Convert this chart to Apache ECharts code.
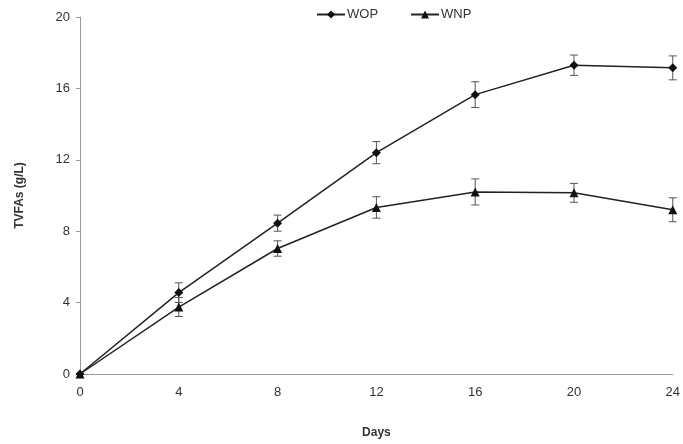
<!DOCTYPE html>
<html><head><meta charset="utf-8">
<script src="https://cdn.jsdelivr.net/npm/echarts@6/dist/echarts.min.js"></script>
<style>html,body{margin:0;padding:0;background:#fff}#c{width:683px;height:444px}</style>
</head><body><div id="c"></div>
<script>
var days = [0, 4, 8, 12, 16, 20, 24];
var wop = [0, 4.56, 8.45, 12.4, 15.65, 17.3, 17.15];
var wopErr = [0, 0.55, 0.45, 0.62, 0.72, 0.57, 0.67];
var wnp = [0, 3.75, 7.03, 9.33, 10.2, 10.15, 9.2];
var wnpErr = [0, 0.53, 0.43, 0.6, 0.73, 0.53, 0.67];
var yTicks = [0, 4, 8, 12, 16, 20];

function pairs(v){ return days.map(function(d,i){ return [d, v[i]]; }); }
function errData(v,e){ return days.map(function(d,i){ return [d, v[i]-e[i], v[i]+e[i]]; }); }
function errRender(params, api){
  var x = api.value(0);
  var lo = api.coord([x, api.value(1)]);
  var hi = api.coord([x, api.value(2)]);
  var w = 4;
  var st = {stroke:'#555', lineWidth:1};
  return {type:'group', children:[
    {type:'line', shape:{x1:lo[0],y1:lo[1],x2:hi[0],y2:hi[1]}, style:st},
    {type:'line', shape:{x1:lo[0]-w,y1:lo[1],x2:lo[0]+w,y2:lo[1]}, style:st},
    {type:'line', shape:{x1:hi[0]-w,y1:hi[1],x2:hi[0]+w,y2:hi[1]}, style:st}
  ]};
}
var chart = echarts.init(document.getElementById('c'), null, {renderer:'canvas'});
var font = 'Liberation Sans, Arial, sans-serif';
chart.setOption({
  animation:false,
  grid:{left:80, right:7, top:17, bottom:68, containLabel:false},
  legend:{
    top:3, left:311, itemGap:32, itemWidth:28, itemHeight:10,
    textStyle:{fontFamily:font, fontSize:13, color:'#333', padding:[0,0,0,-3]},
    data:['WOP','WNP']
  },
  xAxis:{
    type:'value', min:0, max:24, interval:4,
    name:'Days', nameLocation:'middle', nameGap:53,
    nameTextStyle:{fontFamily:font, fontSize:12, fontWeight:'bold', color:'#333'},
    axisLine:{lineStyle:{color:'#999'}}, axisTick:{show:false},
    axisLabel:{fontFamily:font, fontSize:13, color:'#333', margin:12},
    splitLine:{show:false}
  },
  yAxis:{
    type:'value', min:0, max:20, interval:4,
    name:'TVFAs (g/L)', nameLocation:'middle', nameGap:54, nameRotate:90,
    nameTextStyle:{fontFamily:font, fontSize:12, fontWeight:'bold', color:'#333'},
    axisLine:{show:true, lineStyle:{color:'#999'}},
    axisTick:{show:true, length:4, inside:false, lineStyle:{color:'#999'}},
    axisLabel:{fontFamily:font, fontSize:13, color:'#333', margin:10,
      formatter:function(v){ return yTicks.indexOf(v)>=0 ? String(v) : ''; }},
    splitLine:{show:false}
  },
  series:[
    {name:'WOP', type:'line', data:pairs(wop), symbol:'diamond', symbolSize:9,
     itemStyle:{color:'#111'}, lineStyle:{color:'#222', width:1.5}, z:3},
    {name:'WNP', type:'line', data:pairs(wnp), symbol:'triangle', symbolSize:9,
     itemStyle:{color:'#111'}, lineStyle:{color:'#222', width:1.5}, z:3},
    {type:'custom', renderItem:errRender, data:errData(wop,wopErr), encode:{x:0,y:[1,2]}, z:2, silent:true},
    {type:'custom', renderItem:errRender, data:errData(wnp,wnpErr), encode:{x:0,y:[1,2]}, z:2, silent:true}
  ]
});
</script></body></html>
